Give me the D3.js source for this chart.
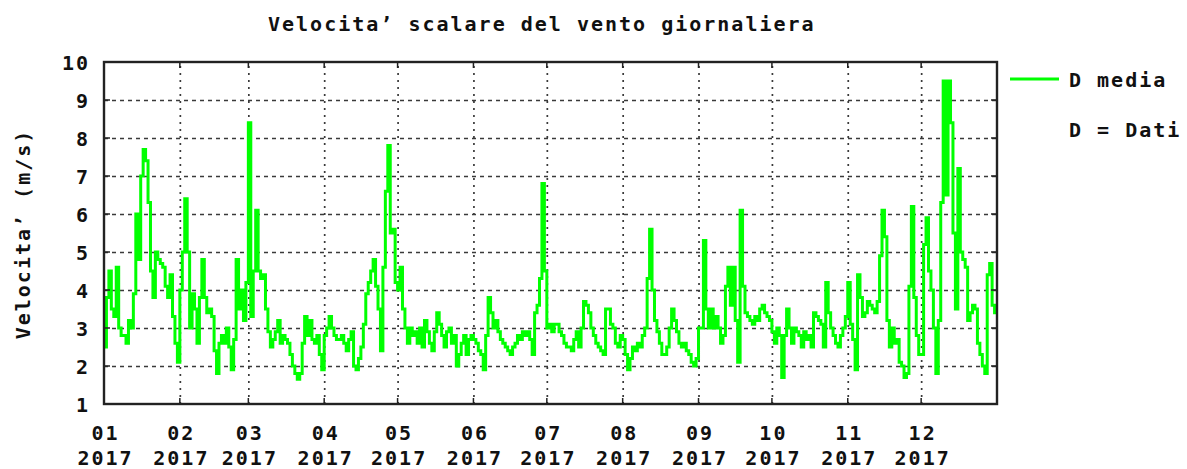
<!DOCTYPE html>
<html>
<head>
<meta charset="utf-8">
<script src="https://cdn.jsdelivr.net/npm/d3@7"></script>
<style>
  html, body { margin: 0; padding: 0; background: #fff; }
  svg { display: block; }
  text { font-family: "DejaVu Sans Mono", "Liberation Mono", monospace; font-weight: bold; fill: #111; }
</style>
</head>
<body>
<svg id="chart" width="1187" height="469"></svg>
<script>
// ---- data -------------------------------------------------------------
const title = "Velocita\u2019 scalare del vento giornaliera";
const yLabel = "Velocita\u2019 (m/s)";
const seriesName = "D media";
const legendNote = "D = Dati";
const year = 2017;
const monthLabels = ["01","02","03","04","05","06","07","08","09","10","11","12"];
const yearLabel = "2017";
const yTicks = [1,2,3,4,5,6,7,8,9,10];

// daily mean wind speed (m/s), one array per month
const jan = [2.5,3.8,4.5,3.5,3.3,4.6,3.0,2.8,2.8,2.6,3.2,3.0,3.9,6.0,4.8,7.0,7.7,7.4,6.3,4.5,3.8,5.0,4.8,4.7,4.6,4.1,3.8,4.4,3.3,2.6,2.1];
const feb = [4.0,5.0,6.4,5.0,3.0,3.9,3.5,2.6,3.8,4.8,3.8,3.4,3.5,3.3,2.4,1.8,2.6,2.8,2.6,3.0,2.5,1.9,2.7,4.8,3.5,4.0,3.2,4.2];
const mar = [8.4,3.3,4.5,6.1,4.5,4.3,4.4,3.5,2.9,2.5,2.7,2.9,3.2,2.6,2.8,2.7,2.6,2.3,2.0,1.8,1.65,1.8,2.6,3.3,2.8,3.2,2.7,2.6,2.8,2.3,1.9];
const apr = [2.8,3.0,3.3,3.0,2.8,2.7,2.7,2.8,2.6,2.4,2.7,2.9,2.0,1.9,2.2,2.5,3.1,3.9,4.2,4.5,4.8,4.1,3.5,2.4,4.6,6.6,7.8,5.5,5.6,4.2];
const may = [4.0,4.6,3.5,3.0,2.6,3.0,2.8,2.9,2.6,3.0,2.5,3.2,2.9,2.6,2.4,2.9,3.4,3.1,2.8,2.5,2.9,3.0,2.6,2.8,2.0,2.3,2.6,2.8,2.3,2.7,2.8];
const jun = [2.7,2.6,2.4,2.3,1.9,2.8,3.8,3.4,3.0,3.2,2.9,2.7,2.6,2.5,2.4,2.3,2.5,2.6,2.8,2.7,2.9,2.8,2.9,2.7,2.3,3.4,3.6,4.3,6.8,4.5];
const jul = [3.0,3.1,2.9,3.1,3.1,2.9,2.8,2.6,2.5,2.5,2.4,2.7,2.9,2.5,3.0,3.7,3.6,3.4,3.0,2.8,2.6,2.5,2.4,2.3,3.5,3.5,3.1,3.0,2.6,2.5,2.8];
const aug = [2.7,2.3,1.9,2.2,2.5,2.4,2.6,2.5,2.8,3.0,4.3,5.6,4.0,3.2,2.9,2.6,2.3,2.3,2.5,3.0,3.5,3.2,2.9,2.6,2.5,2.6,2.4,2.3,2.1,2.0,2.2];
const sep = [3.0,3.0,5.3,3.5,3.0,3.5,3.0,3.3,3.0,2.6,2.8,4.1,4.6,3.6,4.6,3.2,2.1,6.1,4.1,3.4,3.3,3.2,3.1,3.3,3.2,3.5,3.6,3.4,3.3,3.2];
const oct = [2.9,2.6,3.0,2.8,1.7,2.8,3.5,3.0,2.6,3.0,2.9,2.8,2.5,2.9,2.7,2.8,2.5,3.4,3.3,3.2,3.1,2.5,4.2,3.4,3.0,2.8,2.6,2.5,2.8,3.0,3.3];
const nov = [4.2,3.1,2.7,1.9,4.4,3.8,3.3,3.4,3.7,3.6,3.5,3.4,3.7,4.9,6.1,5.4,3.2,2.5,3.0,2.6,2.7,2.1,2.0,1.7,1.8,4.1,6.2,3.8,2.8,2.3];
const dec = [2.3,5.2,5.9,4.5,4.0,3.0,1.8,3.2,6.3,9.5,6.5,9.5,8.4,5.5,3.5,7.2,5.0,4.8,4.6,3.2,3.4,3.6,3.5,2.6,2.3,2.0,1.8,4.4,4.7,3.6,3.4];

const months = [jan,feb,mar,apr,may,jun,jul,aug,sep,oct,nov,dec];

// ---- layout -----------------------------------------------------------
const plot = {left: 104, right: 997, top: 62, bottom: 404};
const ink = "#222";
const gridColor = "#3a3a3a";

const svg = d3.select("#chart");

const x = d3.scaleUtc()
  .domain([new Date(Date.UTC(year,0,1)), new Date(Date.UTC(year+1,0,1))])
  .range([plot.left, plot.right]);
const y = d3.scaleLinear().domain([1,10]).range([plot.bottom, plot.top]);

// build daily points
const points = [];
months.forEach((vals, m) => {
  vals.forEach((v, i) => points.push({date: new Date(Date.UTC(year, m, i+1)), v}));
});
const last = points[points.length-1];
const linePts = points.concat([{date: new Date(Date.UTC(year+1,0,1)), v: last.v}]);

const monthStarts = d3.range(12).map(m => new Date(Date.UTC(year, m, 1)));

// ---- grid --------------------------------------------------------------
const gx = svg.append("g")
  .attr("transform", `translate(0,${plot.bottom})`)
  .call(d3.axisBottom(x).tickValues(monthStarts.slice(1)).tickSize(-(plot.bottom-plot.top)).tickFormat(""));
gx.select(".domain").remove();
gx.selectAll("line").attr("stroke", gridColor).attr("stroke-width", 1.7).attr("stroke-dasharray", "2,5");

const gy = svg.append("g")
  .attr("transform", `translate(${plot.left},0)`)
  .call(d3.axisLeft(y).tickValues(yTicks.slice(1,-1)).tickSize(-(plot.right-plot.left)).tickFormat(""));
gy.select(".domain").remove();
gy.selectAll("line").attr("stroke", gridColor).attr("stroke-width", 1.7).attr("stroke-dasharray", "4,4");

// ---- data line ------------------------------------------------------------
const line = d3.line().x(d => x(d.date)).y(d => y(d.v)).curve(d3.curveStepAfter);
svg.append("path")
  .datum(linePts)
  .attr("fill", "none")
  .attr("stroke", "#00ff00")
  .attr("stroke-width", 3)
  .attr("stroke-linejoin", "miter")
  .attr("d", line);

// ---- inward ticks on all sides ---------------------------------------------
const tk = 6;
const ticksG = svg.append("g").attr("stroke", ink).attr("stroke-width", 1.5);
yTicks.forEach(t => {
  ticksG.append("line").attr("x1", plot.left).attr("x2", plot.left+tk).attr("y1", y(t)).attr("y2", y(t));
  ticksG.append("line").attr("x1", plot.right).attr("x2", plot.right-tk).attr("y1", y(t)).attr("y2", y(t));
});
monthStarts.forEach(d => {
  ticksG.append("line").attr("x1", x(d)).attr("x2", x(d)).attr("y1", plot.bottom).attr("y2", plot.bottom-tk);
  ticksG.append("line").attr("x1", x(d)).attr("x2", x(d)).attr("y1", plot.top).attr("y2", plot.top+tk);
});

// frame
svg.append("rect")
  .attr("x", plot.left).attr("y", plot.top)
  .attr("width", plot.right-plot.left).attr("height", plot.bottom-plot.top)
  .attr("fill", "none").attr("stroke", ink).attr("stroke-width", 2.4);

// ---- axis labels ------------------------------------------------------------
const fs = "20px";
const ls = "2px";

const yAxis = svg.append("g")
  .attr("transform", `translate(${plot.left},0)`)
  .call(d3.axisLeft(y).tickValues(yTicks).tickSize(0).tickPadding(0).tickFormat(d3.format("d")));
yAxis.select(".domain").remove();
yAxis.selectAll("text")
  .attr("x", -14)
  .attr("dy", "0.36em")
  .style("font-size", fs).style("letter-spacing", ls)
  .attr("fill", "#111");

const xAxis = svg.append("g")
  .attr("transform", `translate(0,${plot.bottom})`)
  .call(d3.axisBottom(x).tickValues(monthStarts).tickSize(0).tickFormat(""));
xAxis.select(".domain").remove();
xAxis.selectAll(".tick").each(function(d) {
  const g = d3.select(this);
  g.select("text").remove();
  const t = g.append("text").attr("text-anchor", "middle")
    .style("font-size", fs).style("letter-spacing", ls).attr("fill", "#111");
  t.append("tspan").attr("x", 1).attr("y", 36).text(monthLabels[d.getUTCMonth()]);
  t.append("tspan").attr("x", 1).attr("y", 61).text(yearLabel);
});

// title
svg.append("text")
  .attr("x", 268).attr("y", 31)
  .style("font-size", fs).style("letter-spacing", ls)
  .text(title);

// y label
svg.append("text")
  .attr("transform", `translate(30,${234}) rotate(-90)`)
  .attr("text-anchor", "middle")
  .style("font-size", fs).style("letter-spacing", ls)
  .text(yLabel);

// legend
svg.append("line")
  .attr("x1", 1010).attr("x2", 1059).attr("y1", 79).attr("y2", 79)
  .attr("stroke", "#00ff00").attr("stroke-width", 3);
svg.append("text").attr("x", 1069).attr("y", 87)
  .style("font-size", fs).style("letter-spacing", ls).text(seriesName);
svg.append("text").attr("x", 1069).attr("y", 137)
  .style("font-size", fs).style("letter-spacing", ls).text(legendNote);
</script>
</body>
</html>
